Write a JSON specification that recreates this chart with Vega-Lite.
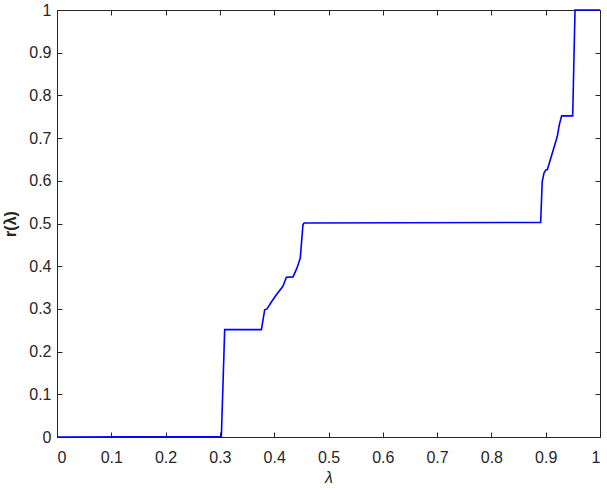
{
  "$schema": "https://vega.github.io/schema/vega-lite/v6.json",
  "width": 543,
  "height": 427,
  "autosize": {"type": "none"},
  "padding": {"left": 57, "top": 10, "right": 7, "bottom": 53},
  "background": "white",
  "config": {
    "view": {"stroke": null},
    "axis": {
      "labelFont": "Liberation Sans",
      "labelFontSize": 16,
      "labelColor": "#262626",
      "domainColor": "#262626",
      "tickColor": "#262626",
      "grid": false,
      "tickSize": -5,
      "domainWidth": 1,
      "tickWidth": 1,
      "titleFont": "Liberation Sans",
      "titleColor": "#262626"
    }
  },
  "data": {
    "values": [
      {"lambda": 0, "r": 0},
      {"lambda": 0.3027, "r": 0.001},
      {"lambda": 0.3088, "r": 0.2515},
      {"lambda": 0.3764, "r": 0.2515},
      {"lambda": 0.3825, "r": 0.298},
      {"lambda": 0.3867, "r": 0.3},
      {"lambda": 0.3948, "r": 0.316},
      {"lambda": 0.404, "r": 0.333},
      {"lambda": 0.416, "r": 0.353},
      {"lambda": 0.4225, "r": 0.374},
      {"lambda": 0.4347, "r": 0.375},
      {"lambda": 0.442, "r": 0.396},
      {"lambda": 0.448, "r": 0.419},
      {"lambda": 0.453, "r": 0.497},
      {"lambda": 0.455, "r": 0.501},
      {"lambda": 0.8907, "r": 0.5025},
      {"lambda": 0.8936, "r": 0.598},
      {"lambda": 0.8968, "r": 0.618},
      {"lambda": 0.9005, "r": 0.626},
      {"lambda": 0.903, "r": 0.626},
      {"lambda": 0.914, "r": 0.6725},
      {"lambda": 0.9213, "r": 0.7036},
      {"lambda": 0.925, "r": 0.731},
      {"lambda": 0.9294, "r": 0.752},
      {"lambda": 0.9497, "r": 0.752},
      {"lambda": 0.954, "r": 1},
      {"lambda": 1, "r": 1}
    ]
  },
  "layer": [
    {
      "mark": {"type": "line", "color": "#0000ff", "strokeWidth": 1.6},
      "encoding": {
        "x": {
          "field": "lambda",
          "type": "quantitative",
          "scale": {"domain": [0, 1], "nice": false, "zero": false},
          "axis": {
            "orient": "bottom",
            "values": [0, 0.1, 0.2, 0.3, 0.4, 0.5, 0.6, 0.7, 0.8, 0.9, 1],
            "format": "~g",
            "title": "λ",
            "titleFontSize": 16,
            "titleFontWeight": "normal",
            "titleFontStyle": "italic",
            "labelPadding": 17,
            "titlePadding": 4
          }
        },
        "y": {
          "field": "r",
          "type": "quantitative",
          "scale": {"domain": [0, 1], "nice": false, "zero": false},
          "axis": {
            "orient": "left",
            "values": [0, 0.1, 0.2, 0.3, 0.4, 0.5, 0.6, 0.7, 0.8, 0.9, 1],
            "format": "~g",
            "title": "r(λ)",
            "titleFontSize": 16,
            "titleFontWeight": "bold",
            "labelPadding": 11,
            "titlePadding": 10
          }
        }
      }
    },
    {
      "mark": {"type": "line", "opacity": 0},
      "encoding": {
        "x": {
          "field": "lambda",
          "type": "quantitative",
          "scale": {"domain": [0, 1], "nice": false, "zero": false},
          "axis": {
            "orient": "top",
            "values": [0, 0.1, 0.2, 0.3, 0.4, 0.5, 0.6, 0.7, 0.8, 0.9, 1],
            "labels": false,
            "title": null
          }
        },
        "y": {
          "field": "r",
          "type": "quantitative",
          "scale": {"domain": [0, 1], "nice": false, "zero": false},
          "axis": {
            "orient": "right",
            "values": [0, 0.1, 0.2, 0.3, 0.4, 0.5, 0.6, 0.7, 0.8, 0.9, 1],
            "labels": false,
            "title": null
          }
        }
      }
    }
  ],
  "resolve": {"axis": {"x": "independent", "y": "independent"}}
}
